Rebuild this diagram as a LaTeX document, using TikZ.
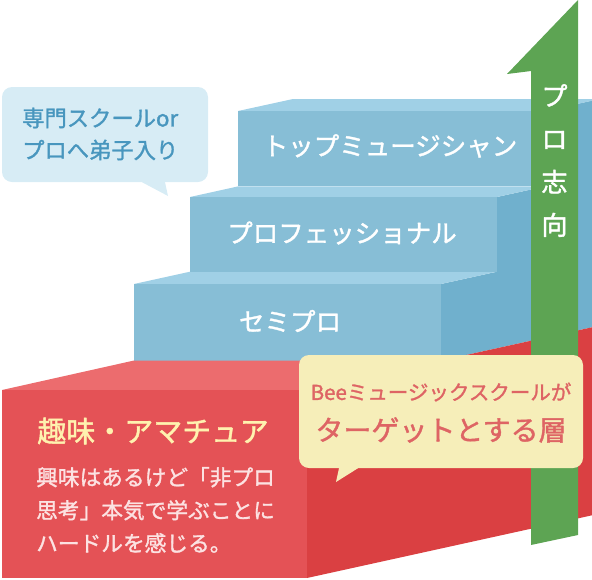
\documentclass[tikz,border=0pt]{standalone}
\usepackage{fontspec}
\newfontfamily\jp{Noto Sans CJK JP}[FakeBold=1.4]
\definecolor{bluefr}{RGB}{135,190,214}
\definecolor{bluetp}{RGB}{160,208,230}
\definecolor{bluesd}{RGB}{112,176,205}
\definecolor{redfr}{RGB}{228,82,86}
\definecolor{redtp}{RGB}{236,108,110}
\definecolor{redsd}{RGB}{218,64,66}
\definecolor{arrowgreen}{RGB}{93,164,83}
\definecolor{bubbleyel}{RGB}{246,238,185}
\definecolor{bubbleblu}{RGB}{215,236,245}
\definecolor{textblu}{RGB}{72,150,190}
\definecolor{textsalmon}{RGB}{222,100,100}
\definecolor{textyel}{RGB}{255,242,175}
\definecolor{textpink}{RGB}{252,226,226}
\begin{document}
\begin{tikzpicture}[x=1pt, y=-1pt, line join=round,
	steplabel/.style={font=\jp\fontsize{25.5}{30}\selectfont, text=white, inner sep=0pt},
	bubble/.style={rounded corners=10pt, inner sep=0pt}]
			\useasboundingbox (0,0) rectangle (592,579);
			% stairs
			\fill[bluesd] (441,360.5)--(441,284)--(497,271.7)--(497,197)--(545,186.4)--(545,111)--(650,87.9)--(650,314.5)--cycle;
			\fill[bluetp] (134,284)--(441,284)--(497,271.7)--(190,271.7)--cycle;
			\fill[bluefr] (134,284) rectangle (441,360.5);
			\fill[bluetp] (190,197)--(497,197)--(545,186.4)--(238,186.4)--cycle;
			\fill[bluefr] (190,197) rectangle (497,271.7);
			\fill[bluetp] (238,111)--(545,111)--(600,99)--(293,99)--cycle;
			\fill[bluefr] (238,111) rectangle (545,186.4);
			\fill[redtp] (2,390)--(307,390)--(441,360.5)--(134,360.5)--cycle;
			\fill[redfr] (2,390) rectangle (307,578);
			\fill[redsd] (307,390)--(592,327.3)--(592,515.3)--(307,578)--cycle;
			% arrow
			\fill[arrowgreen] (578,0)--(507,74)--(531,71)--(531,545)--(578,535)--cycle;
			% bubbles
			\node[bubble, fill=bubbleblu, minimum width=206pt, minimum height=95pt] (probox) at (105,134.5) {};
			\fill[bubbleblu] ([xshift=37pt]probox.south)--(168,196)--([xshift=60pt]probox.south)--cycle;
			\node[bubble, fill=bubbleyel, minimum width=284pt, minimum height=113pt] (beebox) at (441,411.5) {};
			\fill[bubbleyel] ([xshift=-102pt]beebox.south)--(336,482)--([xshift=-83pt]beebox.south)--cycle;
			\path
			(390,146) node[steplabel] (top) {トップミュージシャン}
			(342,233) node[steplabel] (pro) {プロフェッショナル}
			(290,321) node[steplabel] (semi) {セミプロ}
			(554.5,160.5) node[steplabel, font=\jp\fontsize{26}{43}\selectfont, align=center] (aim) {プ\\ロ\\志\\向}
			(153,431) node[inner sep=0pt, text=textyel, font=\jp\fontsize{29}{34}\selectfont] (hobby) {趣味・アマチュア}
			(36,510) node[anchor=west, inner sep=0pt, text=textpink, align=left, font=\jp\fontsize{21.7}{33}\selectfont] (hobbytxt) {興味はあるけど「非プロ\\思考」本気で学ぶことに\\ハードルを感じる。}
			(22,134) node[anchor=west, inner sep=0pt, text=textblu, align=left, font=\jp\fontsize{22.3}{32}\selectfont] (protxt) {専門スクールor\\プロへ弟子入り}
			(441,392) node[inner sep=0pt, text=textsalmon, font=\jp\fontsize{20.5}{24}\selectfont] (beetop) {Beeミュージックスクールが}
			(441,430) node[inner sep=0pt, text=textsalmon, font=\jp\fontsize{28}{32}\selectfont] (beetxt) {ターゲットとする層}
			;
	\end{tikzpicture}
\end{document}
